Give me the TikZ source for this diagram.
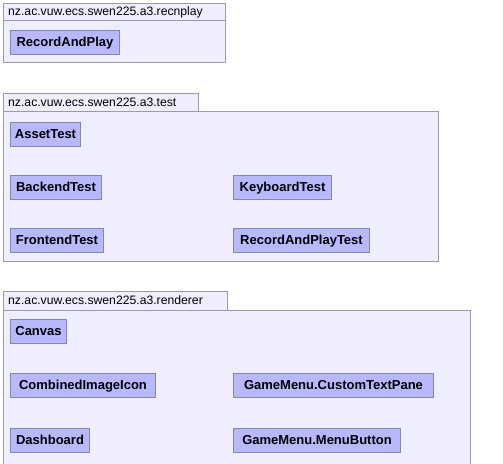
\documentclass[tikz,border=0pt]{standalone}
\usepackage{fontspec}
\setmainfont{Liberation Sans}
\usetikzlibrary{positioning}
\definecolor{pkgfill}{HTML}{EEEEFF}
\definecolor{pkgline}{HTML}{9A9AAA}
\definecolor{clsfill}{HTML}{B8B8FF}
\definecolor{clsline}{HTML}{8484B0}

\begin{document}
\begin{tikzpicture}[x=1pt,y=-1pt,
  pkgbox/.style={draw=pkgline,fill=pkgfill,line width=1pt},
  pkglabel/.style={anchor=west,inner sep=0pt,font=\fontsize{12.2}{14}\selectfont},
  clsbox/.style={draw=clsline,fill=clsfill,line width=1pt,anchor=north west,minimum height=24pt,inner sep=0pt,
    text height=9.5pt,text depth=2.5pt,font=\bfseries\fontsize{13}{15}\selectfont}]
 \clip (0,0) rectangle (503,463);

 % ---- recnplay ----
 \draw[pkgbox] (3,3) rectangle (225,62);
 \draw[pkgline,line width=1pt] (3,20.5) -- (225,20.5);
 \node[pkglabel] (recnplay) at (8,12) {nz.ac.vuw.ecs.swen225.a3.recnplay};
 \node[clsbox,minimum width=109pt] (recordandplay) at (10,30) {RecordAndPlay};

 % ---- test ----
 \draw[pkgbox] (3,93) rectangle (198,111);
 \draw[pkgbox] (3,111) rectangle (438,261);
 \node[pkglabel] (test) at (8,102) {nz.ac.vuw.ecs.swen225.a3.test};
 \node[clsbox,minimum width=70pt] (assettest) at (10,122) {AssetTest};
 \node[clsbox,minimum width=91pt] (backendtest) at (10,175) {BackendTest};
 \node[clsbox,minimum width=93pt] (frontendtest) at (10,228) {FrontendTest};
 \node[clsbox,minimum width=98pt] (keyboardtest) at (233,175) {KeyboardTest};
 \node[clsbox,minimum width=136pt] (recordandplaytest) at (233,228) {RecordAndPlayTest};

 % ---- renderer ----
 \draw[pkgbox] (3,291) rectangle (227,310);
 \draw[pkgbox] (3,310) rectangle (470,475);
 \node[pkglabel] (renderer) at (8,300.5) {nz.ac.vuw.ecs.swen225.a3.renderer};
 \node[clsbox,minimum width=56pt] (canvas) at (10,319) {Canvas};
 \node[clsbox,minimum width=145pt] (combinedimageicon) at (10,373) {CombinedImageIcon};
 \node[clsbox,minimum width=79pt] (dashboard) at (10,428) {Dashboard};
 \node[clsbox,minimum width=200pt] (customtextpane) at (233,373) {GameMenu.CustomTextPane};
 \node[clsbox,minimum width=167pt] (menubutton) at (233,428) {GameMenu.MenuButton};
\end{tikzpicture}
\end{document}
